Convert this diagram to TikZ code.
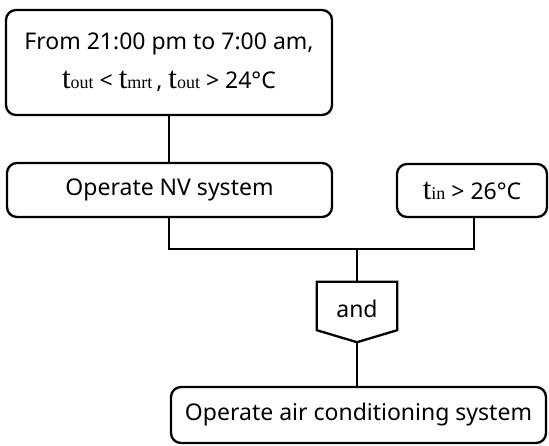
\documentclass[tikz,border=0pt]{standalone}
\usepackage{fontspec}
\setmainfont{Noto Sans}
\newfontfamily\tfont{Liberation Serif}
\newcommand{\tv}[1]{{\tfont\fontsize{31}{31}\selectfont t\fontsize{18}{18}\selectfont #1}}
\begin{document}
\begin{tikzpicture}[x=1pt,y=-1pt,
  box/.style={draw,line width=2.3pt,rounded corners=10pt,inner sep=0pt,font=\fontsize{23}{30}\selectfont,align=center},
  conn/.style={line width=2.3pt}]
\useasboundingbox (0,0) rectangle (549,445);
\node[box,minimum width=326pt,minimum height=105pt] (top) at (169,62.5)
  {From 21:00 pm to 7:00 am,\\[9pt]\tv{out} {<} \tv{mrt}\,, \tv{out} > 24°C};
\node[box,minimum width=325pt,minimum height=54pt] (nv) at (169.5,190) {Operate NV system};
\node[box,minimum width=150pt,minimum height=53pt] (tin) at (472,190.5) {\tv{in} > 26°C};
\node[font=\fontsize{23}{30}\selectfont,inner sep=0pt,minimum width=80pt,minimum height=60pt] (and) at (357,312) {\raisebox{6pt}{and}};
\draw[conn,line join=miter] (and.north west) -- (and.north east) -- ([yshift=12pt]and.south east) -- (and.south) -- ([yshift=12pt]and.south west) -- cycle;
\node[box,minimum width=375pt,minimum height=56pt] (ac) at (358.5,415) {Operate air conditioning system};
\coordinate (j) at (357,249);
\draw[conn] (top.south) -- (nv.north -| top.south);
\draw[conn] (nv.south -| top.south) |- (j);
\draw[conn] (tin.south -| 474,0) |- (j);
\draw[conn] (j) -- (and.north);
\draw[conn] (and.south) -- (ac.north -| and.south);
\end{tikzpicture}
\end{document}
